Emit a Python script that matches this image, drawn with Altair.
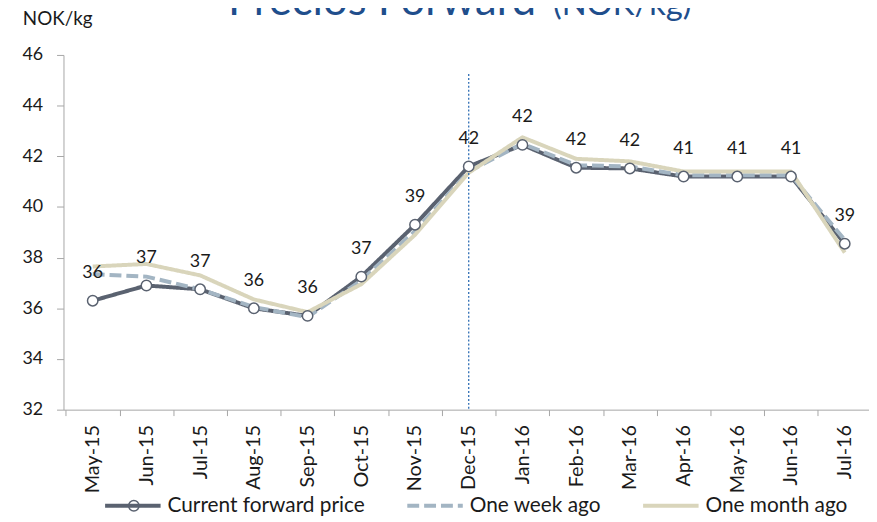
import altair as alt
import pandas as pd

months = ["May-15", "Jun-15", "Jul-15", "Aug-15", "Sep-15", "Oct-15", "Nov-15", "Dec-15",
          "Jan-16", "Feb-16", "Mar-16", "Apr-16", "May-16", "Jun-16", "Jul-16"]
current = [36.3, 36.9, 36.75, 36.0, 35.7, 37.25, 39.3, 41.6, 42.45, 41.55, 41.52, 41.2, 41.2, 41.2, 38.55]
week_ago = [37.35, 37.25, 36.75, 36.05, 35.65, 37.1, 39.05, 41.4, 42.5, 41.65, 41.6, 41.25, 41.25, 41.25, 38.7]
month_ago = [37.65, 37.75, 37.3, 36.35, 35.85, 36.95, 38.9, 41.35, 42.75, 41.9, 41.8, 41.4, 41.4, 41.4, 38.2]
series_names = ["Current forward price", "One week ago", "One month ago"]
y_ticks = [32, 34, 36, 38, 40, 42, 44, 46]
marker_month = "Dec-15"
marker_top = 45.25

FONT = "Lato"
TXT = "#1a1a1a"
CUR = "#5A6270"
rows = []
for name, vals in zip(series_names, [current, week_ago, month_ago]):
    for m, v in zip(months, vals):
        rows.append({"month": m, "series": name, "value": v})
df = pd.DataFrame(rows)
cur_df = pd.DataFrame({"month": months, "value": current})

x_scale = alt.Scale(type="band", domain=months, paddingInner=0, paddingOuter=0.044, range=[0, 818])
y_scale = alt.Scale(domain=[32, 46], nice=False, zero=False)
x_axis = alt.Axis(labelAngle=-90, tickBand="extent", grid=False, ticks=True, tickSize=6,
                  labelPadding=9, labelFontSize=20)
y_axis = alt.Axis(values=y_ticks, grid=False, ticks=True, tickSize=7, labelPadding=14,
                  labelFontSize=18)


def X():
    return alt.X("month:N", sort=months, scale=x_scale, title=None, axis=x_axis)


def Y(field="value"):
    return alt.Y(f"{field}:Q", scale=y_scale, title=None, axis=y_axis)


leg = dict(title=None, orient="none", legendX=40, legendY=425, direction="horizontal",
           symbolType="stroke", symbolSize=3136, labelFont=FONT, labelFontSize=21,
           labelColor=TXT, columnPadding=34, labelOffset=5, labelLimit=400)

lines = alt.Chart(df).mark_line(strokeCap="butt", strokeJoin="round").encode(
    x=X(),
    y=Y(),
    color=alt.Color("series:N", sort=series_names,
                    scale=alt.Scale(domain=series_names, range=[CUR, "#A3B5C3", "#D9D5BB"]),
                    legend=alt.Legend(**leg)),
    strokeDash=alt.StrokeDash("series:N", sort=series_names,
                              scale=alt.Scale(domain=series_names, range=[[1, 0], [12, 5], [1, 0]]),
                              legend=alt.Legend(**leg)),
    strokeWidth=alt.StrokeWidth("series:N", sort=series_names,
                                scale=alt.Scale(domain=series_names, range=[4, 4, 5.5]),
                                legend=alt.Legend(**leg)),
    detail="series:N",
)

points = alt.Chart(cur_df).mark_point(shape="circle", filled=True, fill="white", stroke=CUR,
                                      strokeWidth=1.5, size=110, opacity=1).encode(x=X(), y=Y())

labels = alt.Chart(cur_df).mark_text(dy=-28, font=FONT, fontSize=18, color=TXT).encode(
    x=X(), y=Y(), text=alt.Text("value:Q", format=".0f"))

vline = alt.Chart(pd.DataFrame({"month": [marker_month], "top": [marker_top], "bottom": [32]})).mark_rule(
    color="#2E6DB4", strokeDash=[2, 2], strokeWidth=1.3).encode(
    x=X(), y=Y("top"), y2="bottom:Q")

# legend marker for the "Current forward price" entry
legend_marker = alt.Chart(pd.DataFrame({"s": [series_names[0]]})).mark_point(
    shape="circle", filled=True, fill="white", stroke=CUR, strokeWidth=1.5, size=110, opacity=1
).encode(x=alt.value(71), y=alt.value(455))

title1 = alt.Chart(pd.DataFrame({"t": ["Precios Forward"]})).mark_text(
    align="left", baseline="alphabetic", font=FONT, fontSize=44, color="#1F4E8C").encode(
    x=alt.value(166), y=alt.value(-40), text="t:N")
title2 = alt.Chart(pd.DataFrame({"t": ["(NOK/kg)"]})).mark_text(
    align="left", baseline="alphabetic", font=FONT, fontSize=33, color="#1F4E8C").encode(
    x=alt.value(494), y=alt.value(-40), text="t:N")
unit = alt.Chart(pd.DataFrame({"t": ["NOK/kg"]})).mark_text(
    align="left", baseline="alphabetic", font=FONT, fontSize=19, color=TXT).encode(
    x=alt.value(-41), y=alt.value(-30), text="t:N")

chart = alt.layer(lines, vline, points, labels, legend_marker, title1, title2, unit).properties(
    width=813, height=358,
    autosize=alt.AutoSizeParams(type="none"),
    padding={"left": 56, "top": 45, "right": 0, "bottom": 110},
).configure_view(stroke=None).configure_axis(
    domainWidth=1, tickWidth=1, domainColor="#A6A6A6", tickColor="#A6A6A6",
    labelFont=FONT, labelColor=TXT, grid=False
)

chart.save("out.html", embed_options={"renderer": "svg", "actions": False})
